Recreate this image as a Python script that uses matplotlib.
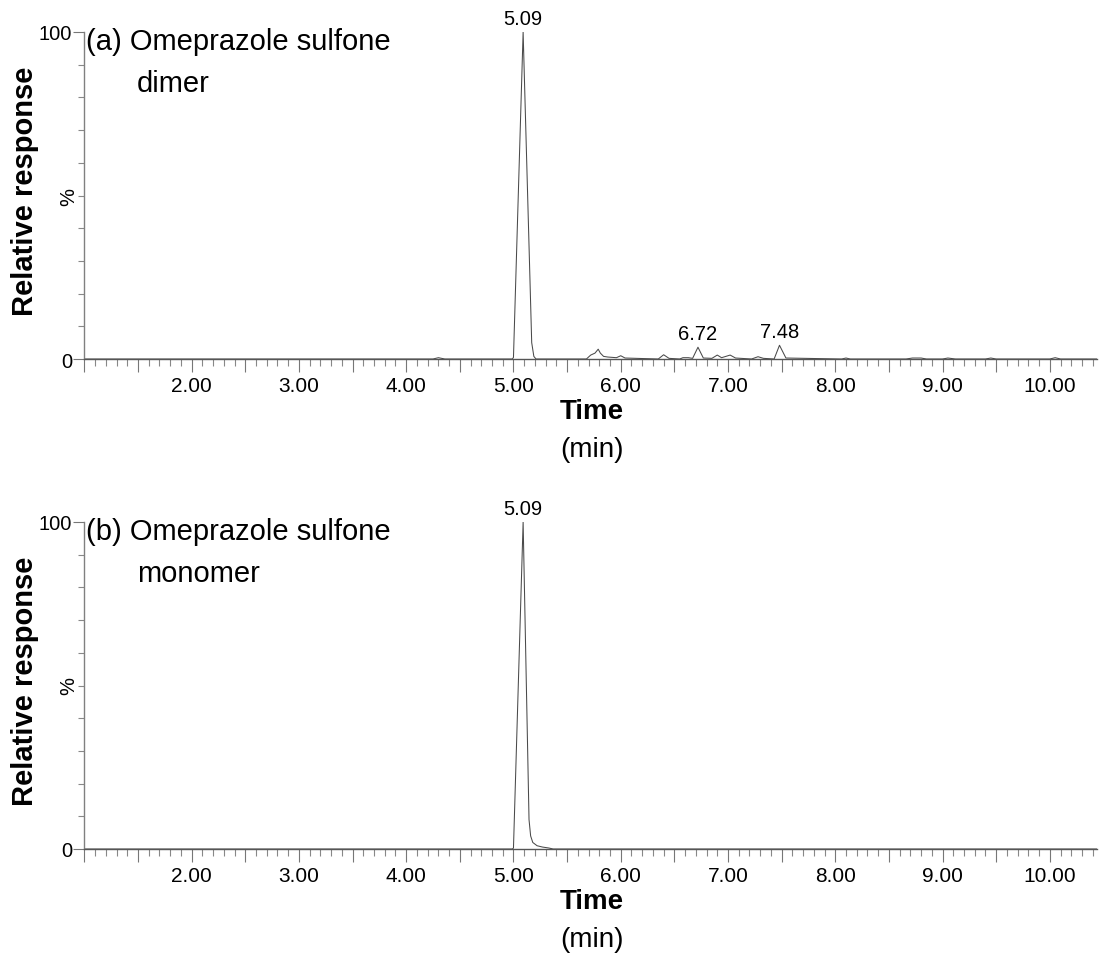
import matplotlib
matplotlib.use("Agg")
import matplotlib.pyplot as plt
from matplotlib.ticker import MultipleLocator, FixedLocator, FixedFormatter, FuncFormatter

plt.rcParams['font.family'] = ['Liberation Sans', 'DejaVu Sans']

# Chromatogram traces: retention time (min) and relative response (%)
dimer_time = [1.00, 4.25, 4.30, 4.36, 4.99, 5.00, 5.09, 5.17, 5.19, 5.21,
              5.68, 5.72, 5.76, 5.79, 5.81, 5.84, 5.88, 5.96, 6.00, 6.04,
              6.35, 6.40, 6.45, 6.55, 6.58, 6.63, 6.67, 6.72, 6.77, 6.85,
              6.90, 6.94, 6.98, 7.02, 7.07, 7.22, 7.28, 7.33, 7.43, 7.48,
              7.54, 8.06, 8.10, 8.14, 8.66, 8.72, 8.80, 8.85, 9.00, 9.05,
              9.12, 9.40, 9.45, 9.50, 10.00, 10.05, 10.10, 10.44]
dimer_resp = [0.0, 0.0, 0.4, 0.0, 0.0, 0.5, 100.0, 5.0, 0.8, 0.0,
              0.0, 1.2, 1.8, 3.0, 1.8, 0.8, 0.6, 0.4, 1.0, 0.3,
              0.0, 1.3, 0.2, 0.0, 0.4, 0.4, 0.2, 3.6, 0.3, 0.2,
              1.2, 0.4, 0.8, 1.2, 0.3, 0.0, 0.7, 0.2, 0.0, 4.2,
              0.3, 0.0, 0.3, 0.0, 0.0, 0.3, 0.3, 0.0, 0.0, 0.3,
              0.0, 0.0, 0.3, 0.0, 0.0, 0.4, 0.0, 0.0]

monomer_time = [1.00, 4.99, 5.00, 5.09, 5.145, 5.16, 5.18, 5.22, 5.27,
                5.33, 5.37, 10.44]
monomer_resp = [0.0, 0.0, 0.3, 100.0, 9.0, 4.0, 2.0, 1.0, 0.6,
                0.3, 0.0, 0.0]

dimer_labels = [5.09, 6.72, 7.48]
dimer_label_resp = [100.0, 3.6, 4.2]
monomer_labels = [5.09]
monomer_label_resp = [100.0]

panel_titles = ["(a) Omeprazole sulfone", "(b) Omeprazole sulfone"]
panel_subtitles = ["dimer", "monomer"]
x_major = [2.0, 3.0, 4.0, 5.0, 6.0, 7.0, 8.0, 9.0, 10.0]
x_major_text = ["2.00", "3.00", "4.00", "5.00", "6.00", "7.00", "8.00", "9.00", "10.00"]


def minute_label(v, pos):
    v = round(v, 1)
    return x_major_text[x_major.index(v)] if v in x_major else ""


W, H = 1099, 962
fig = plt.figure(figsize=(W / 100, H / 100), dpi=100)

ax_left = 84.4 / W
ax_width = (1097 - 84.4) / W
boxes = [(33, 360), (523, 850)]   # (top px, bottom px)

traces = [(dimer_time, dimer_resp, dimer_labels, dimer_label_resp),
          (monomer_time, monomer_resp, monomer_labels, monomer_label_resp)]

for i, ((top, bot), (t, r, lab_t, lab_r)) in enumerate(zip(boxes, traces)):
    ax = fig.add_axes([ax_left, 1 - bot / H, ax_width, (bot - top) / H])
    ax.plot(t, r, color='#4a4a4a', lw=0.75)
    ax.set_xlim(1.0, 10.44)
    ax.set_ylim(0, 100)

    for s in ('top', 'right'):
        ax.spines[s].set_visible(False)
    ax.spines['left'].set_color('#808080')
    ax.spines['bottom'].set_color('#555555')
    ax.spines['left'].set_linewidth(1.0)
    ax.spines['bottom'].set_linewidth(1.0)

    # x ticks: labelled whole minutes, long ticks every 0.5, short every 0.1
    ax.xaxis.set_major_locator(MultipleLocator(0.5))
    ax.xaxis.set_minor_locator(MultipleLocator(0.1))
    ax.xaxis.set_major_formatter(FuncFormatter(minute_label))
    ax.tick_params(axis='x', which='major', length=9, width=0.8,
                   color='#777777', labelsize=15, pad=3)
    ax.tick_params(axis='x', which='minor', length=5, width=0.8,
                   color='#888888')

    # y ticks: 0 and 100 labelled, minor every 10
    ax.yaxis.set_major_locator(FixedLocator([0, 100]))
    ax.yaxis.set_major_formatter(FixedFormatter(["0", "100"]))
    ax.yaxis.set_minor_locator(MultipleLocator(10))
    ax.tick_params(axis='y', which='major', length=8, width=0.8,
                   color='#777777', labelsize=14.5, pad=1)
    ax.tick_params(axis='y', which='minor', length=4, width=0.8,
                   color='#888888')

    ax.set_ylabel('%', fontsize=14.5, labelpad=0)
    ax.yaxis.set_label_coords(-0.006, 0.5)

    # peak retention-time labels
    for xt, yr in zip(lab_t, lab_r):
        ax.annotate(f"{xt:.2f}", (xt, yr), xytext=(0, 3),
                    textcoords='offset points', ha='center', va='bottom',
                    fontsize=14.5, annotation_clip=False)

    ax.text(1.015, 94.8, panel_titles[i], fontsize=21, va='baseline',
            ha='left')
    ax.text(1.49, 82.0, panel_subtitles[i], fontsize=21, va='baseline',
            ha='left')

    # axis titles
    yc = 1 - ((top + bot) / 2 - 5) / H
    fig.text(25 / W, yc, 'Relative response', rotation=90, fontsize=21,
             fontweight='bold', ha='center', va='center')
    fig.text(592 / W, 1 - (bot + 52) / H, 'Time', fontsize=20,
             fontweight='bold', ha='center', va='center')
    fig.text(592 / W, 1 - (bot + 90) / H, '(min)', fontsize=20,
             ha='center', va='center')

fig.savefig('out.png', dpi=100, facecolor='white')
